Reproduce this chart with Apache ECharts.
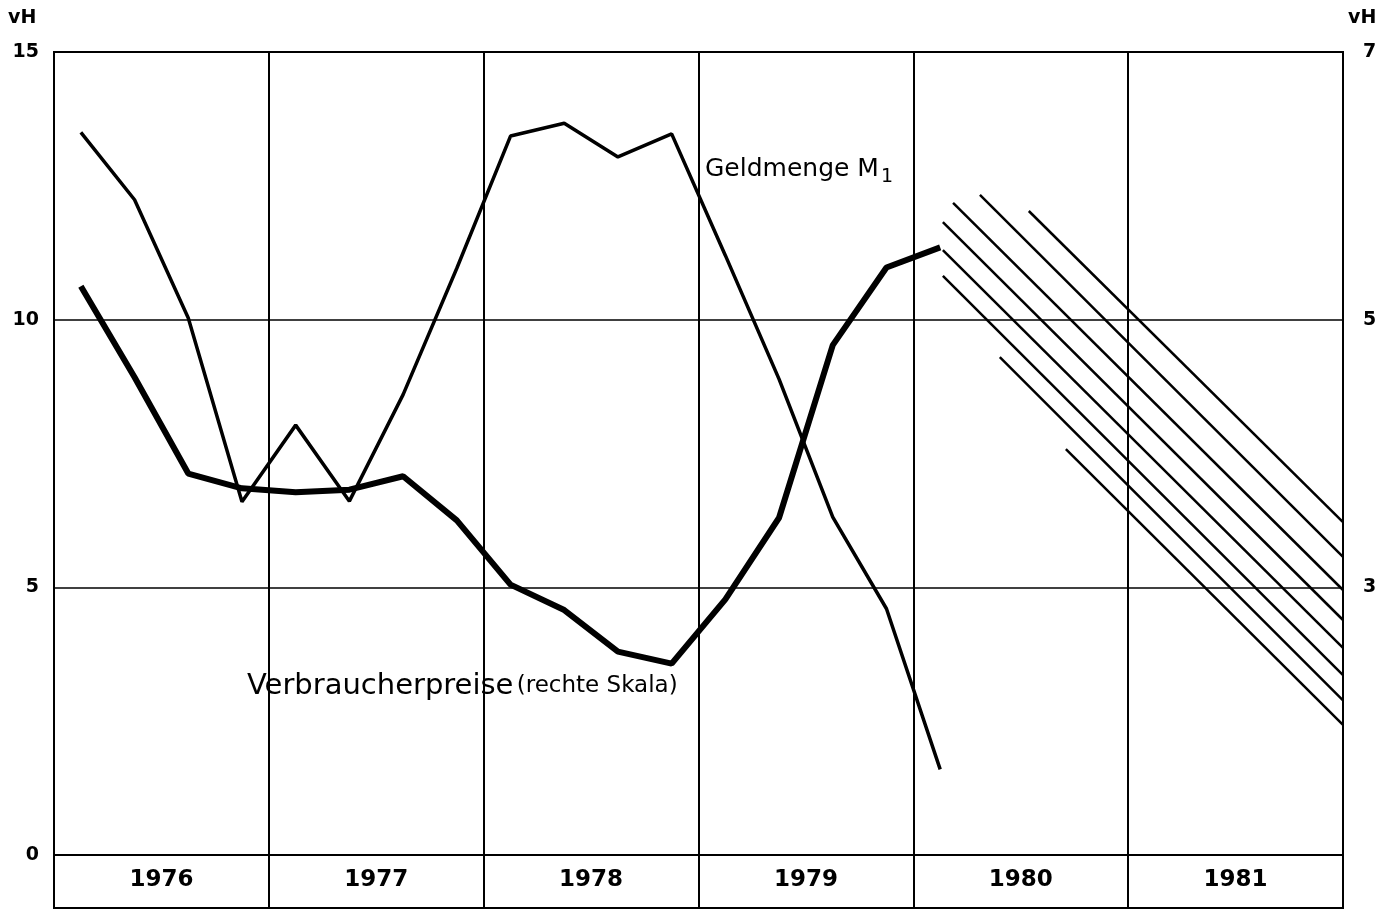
<!DOCTYPE html>
<html lang="de">
<head>
<meta charset="UTF-8"/>
<script src="https://cdn.jsdelivr.net/npm/echarts@6/dist/echarts.min.js"></script>
<title>Geldmenge und Verbraucherpreise</title>
<style>
  html, body { margin: 0; padding: 0; background: #fff; }
  #main { width: 1389px; height: 910px; }
</style>
</head>
<body>
<div id="main"></div>
<script type="text/javascript">
// Jahre (je 4 Quartale)
var years = ['1976', '1977', '1978', '1979', '1980', '1981'];

// Quartalswerte ab 1976 I, vH
var geldmenge = [13.5, 12.24, 10.03, 6.6, 8.03, 6.61, 8.6, 10.96,
                 13.43, 13.67, 13.04, 13.47, 11.2, 8.89, 6.31, 4.6, 1.6];
var verbraucherpreise = [5.25, 4.57, 3.85, 3.74, 3.71, 3.73, 3.83, 3.5,
                         3.02, 2.83, 2.52, 2.43, 2.91, 3.52, 4.81, 5.39, 5.54];

// Schraffur 1980/81: Anfang und Ende jeder Linie (Quartal, linke Skala)
var hatchStartQ = [18.15, 17.24, 16.74, 16.55, 16.55, 16.55, 17.61, 18.84];
var hatchStartV = [12.03, 12.33, 12.18, 11.82, 11.30, 10.82, 9.30, 7.58];
var hatchEndQ   = [24, 24, 24, 24, 24, 24, 24, 24];
var hatchEndV   = [6.22, 5.57, 4.95, 4.39, 3.87, 3.36, 2.89, 2.43];

var leftTicks = [0, 5, 10, 15];
var rightTicks = [3, 5, 7];

var FONT = 'DejaVu Sans';

function quarterPairs(arr) {
    return arr.map(function (v, i) { return [i + 0.5, v]; });
}

var myChart = echarts.init(document.getElementById('main'));

var series = [
    {
        name: 'Geldmenge M1',
        type: 'line',
        xAxisIndex: 0, yAxisIndex: 0,
        data: quarterPairs(geldmenge),
        symbol: 'none',
        lineStyle: { color: '#000', width: 3.5 },
        z: 5
    },
    {
        name: 'Verbraucherpreise',
        type: 'line',
        xAxisIndex: 0, yAxisIndex: 1,
        data: quarterPairs(verbraucherpreise),
        symbol: 'none',
        lineStyle: { color: '#000', width: 6 },
        z: 6
    }
];

for (var i = 0; i < hatchStartQ.length; i++) {
    series.push({
        type: 'line',
        xAxisIndex: 0, yAxisIndex: 0,
        data: [[hatchStartQ[i], hatchStartV[i]], [hatchEndQ[i], hatchEndV[i]]],
        symbol: 'none',
        silent: true,
        lineStyle: { color: '#000', width: 2.5 },
        z: 4
    });
}

// leere Serie, damit das Jahresband eine Achse hat
series.push({
    type: 'line', xAxisIndex: 1, yAxisIndex: 2, data: [], symbol: 'none'
});

var option = {
    backgroundColor: '#fff',
    animation: false,
    textStyle: { fontFamily: FONT, color: '#000' },
    grid: [
        { left: 54, right: 46, top: 52, height: 803,
          show: true, borderColor: '#000', borderWidth: 2 },
        { left: 54, right: 46, top: 855, height: 53,
          show: true, borderColor: '#000', borderWidth: 2 }
    ],
    xAxis: [
        {
            type: 'value', gridIndex: 0, min: 0, max: 24, interval: 4,
            axisLine: { show: false }, axisTick: { show: false },
            axisLabel: { show: false },
            splitLine: { show: true, lineStyle: { color: '#000', width: 2 } }
        },
        {
            type: 'category', gridIndex: 1, data: years, position: 'top',
            boundaryGap: true,
            axisLine: { show: false }, axisTick: { show: false },
            axisLabel: { inside: true, margin: 14, fontSize: 23, fontWeight: 'bold',
                         fontFamily: FONT, color: '#000', interval: 0 },
            splitLine: { show: true, interval: 0,
                         lineStyle: { color: '#000', width: 2 } }
        }
    ],
    yAxis: [
        {
            type: 'value', gridIndex: 0, position: 'left', min: 0, max: 15, interval: 5,
            axisLine: { show: false }, axisTick: { show: false },
            axisLabel: { margin: 15, fontSize: 19, fontWeight: 'bold', fontFamily: FONT,
                         color: '#000', customValues: leftTicks },
            splitLine: { show: true, lineStyle: { color: '#000', width: 1.5 } }
        },
        {
            type: 'value', gridIndex: 0, position: 'right', min: 1, max: 7, interval: 2,
            axisLine: { show: false }, axisTick: { show: false },
            axisLabel: { margin: 20, fontSize: 19, fontWeight: 'bold', fontFamily: FONT,
                         color: '#000', customValues: rightTicks },
            splitLine: { show: false }
        },
        {
            type: 'value', gridIndex: 1, show: false, min: 0, max: 1
        }
    ],
    graphic: [
        { type: 'text', left: 8, top: 9,
          style: { text: 'vH', font: 'bold 19px "DejaVu Sans"', fill: '#000' } },
        { type: 'text', left: 1348, top: 9,
          style: { text: 'vH', font: 'bold 19px "DejaVu Sans"', fill: '#000' } },
        { type: 'text', left: 705, top: 157,
          style: {
              text: '{a|Geldmenge M}{s|1}',
              rich: {
                  a: { fontSize: 25, fontFamily: FONT, fill: '#000' },
                  s: { fontSize: 19, fontFamily: FONT, fill: '#000', padding: [16, 0, 0, 2] }
              }
          } },
        { type: 'text', left: 247, top: 672,
          style: {
              text: '{a|Verbraucherpreise} {b|(rechte Skala)}',
              rich: {
                  a: { fontSize: 29, fontFamily: FONT, fill: '#000' },
                  b: { fontSize: 23, fontFamily: FONT, fill: '#000' }
              }
          } }
    ],
    series: series
};

myChart.setOption(option);
</script>
</body>
</html>
